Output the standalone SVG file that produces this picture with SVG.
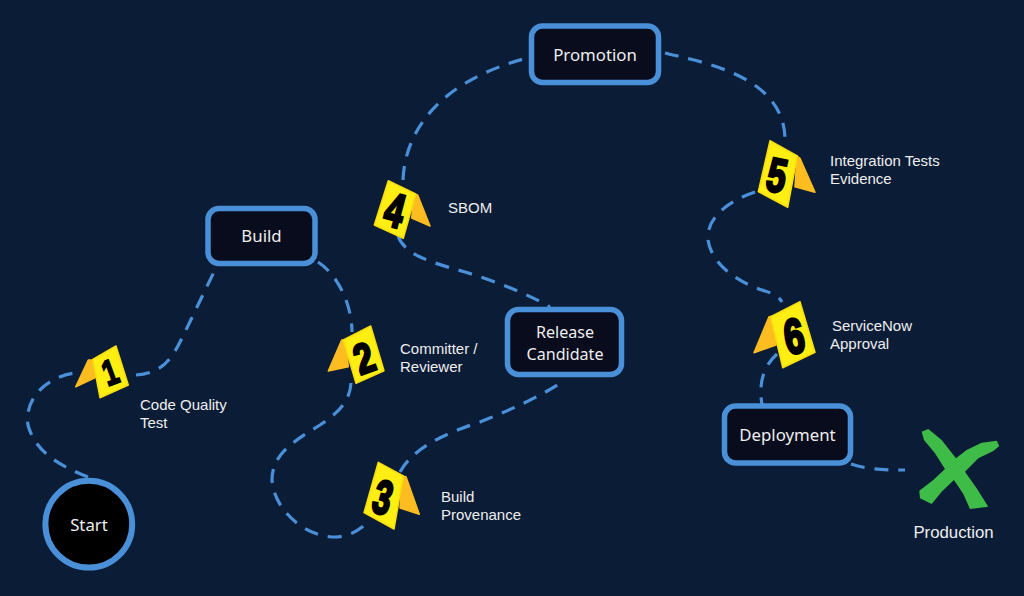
<svg xmlns="http://www.w3.org/2000/svg" width="1024" height="596" viewBox="0 0 1024 596">
<style>
.c{fill:none;stroke:#4a90d9;stroke-width:3.2;stroke-dasharray:14 10}
.n{fill:#080c1c;stroke:#4a90d9;stroke-width:5.5}
.nt{font-family:"Noto Sans","Open Sans",sans-serif;font-size:16.800px;fill:#eeeeee;text-anchor:middle}
.l{font-family:"Liberation Sans",Arial,sans-serif;font-size:15px;fill:#eeeeee}
.f{fill:#ffee12;stroke:#f8dc10;stroke-width:1.500;stroke-linejoin:round}
.s{fill:#fdbc20;stroke:#fdbc20;stroke-width:1.500;stroke-linejoin:round}
.d{font-family:"Liberation Sans",Arial,sans-serif;font-weight:bold;font-size:34px;fill:#000;stroke:#000;stroke-width:2;text-anchor:middle}
</style>
<rect width="1024" height="596" fill="#0b1c36"/>
<g id="connectors">
<path class="c" d="M88 477C60 466 35 452 28 425C24 400 45 377 75 373"/>
<path class="c" d="M136 375C160 373 170 362 180 342C192 318 205 290 215 270"/>
<path class="c" d="M318 262C338 275 352 305 352 332"/>
<path class="c" d="M351 383C350 400 340 412 320 425C292 442 272 455 272 480C274 510 305 537 335 537C348 537 358 531 366 524"/>
<path class="c" d="M400 472C412 450 440 435 480 422C510 410 540 397 565 380"/>
<path class="c" d="M398 236C405 255 430 262 465 272C495 281 530 295 550 307"/>
<path class="c" d="M403 180C405 130 440 80 531 57"/>
<path class="c" d="M665 53C700 62 785 75 785 140"/>
<path class="c" d="M755 192C725 202 706 220 708 240C712 268 745 285 765 291C775 294 780 298 782 302"/>
<path class="c" d="M777 354C765 365 758 380 762 405"/>
<path class="c" d="M851 464C870 470 885 470 905 470"/>
</g>
<g id="start"><circle cx="88.800" cy="524.200" r="43.400" fill="#000" stroke="#4a90d9" stroke-width="6"/><text class="nt" x="89" y="531">Start</text></g>
<g id="build"><rect class="n" x="208" y="208.500" width="107" height="55" rx="11"/><text class="nt" x="261.500" y="242">Build</text></g>
<g id="release"><rect class="n" x="507.500" y="309.500" width="114" height="65" rx="11"/><text class="nt" style="font-size:16.100px"><tspan x="565" y="337.500">Release</tspan><tspan x="565" y="359.500">Candidate</tspan></text></g>
<g id="promotion"><rect class="n" x="531.500" y="26" width="127" height="56.500" rx="11"/><text class="nt" x="595" y="61">Promotion</text></g>
<g id="deployment"><rect class="n" x="724.500" y="406" width="126" height="57" rx="11"/><text class="nt" x="787.500" y="441">Deployment</text></g>
<g id="marker1"><polygon class="s" points="88.300,360 75.700,386.700 95,377.700 97,360"/><polygon class="f" points="116,346 92.700,359.300 100,397.700 128.300,385"/><text class="d" transform="translate(110 372) rotate(-20) scale(.75 1.05)" y="12">1</text></g>
<g id="marker2"><polygon class="s" points="341.700,340 328.300,371 348.300,366.700 346,340"/><polygon class="f" points="370.700,326 343.300,340 356,383.300 384,370.700"/><text class="d" transform="translate(364 358) rotate(-20) scale(1 1.25)" y="12">2</text></g>
<g id="marker3"><polygon class="s" points="406,476.700 419.300,514.300 400,508 402,476"/><polygon class="f" points="378.300,462.300 403.300,476 394,529 364,512.700"/><text class="d" transform="translate(383 497) rotate(15) scale(.95 1.4)" y="12">3</text></g>
<g id="marker4"><polygon class="s" points="417.700,195 430,226 411.700,218 414,194"/><polygon class="f" points="388.300,180.700 415.700,194 403.300,238.300 374.300,225"/><text class="d" transform="translate(395 210) rotate(15) scale(1 1.4)" y="12">4</text></g>
<g id="marker5"><polygon class="s" points="800,158.300 815,192.300 795,186.700 797,156"/><polygon class="f" points="770,140.700 797.300,156 787.700,207.300 758.300,191.700"/><text class="d" transform="translate(777 175) rotate(12) scale(1 1.4)" y="12">5</text></g>
<g id="marker6"><polygon class="s" points="769,316.700 754,352.700 776,345 774,316"/><polygon class="f" points="800,301.700 770.700,316.700 782.700,367.700 815,352.300"/><text class="d" transform="translate(794 336) rotate(-10) scale(1.05 1.45)" y="12">6</text></g>
<g id="production"><polygon transform="translate(700 290) scale(.3333)" fill="#3fbb48" points="665,425 685,417 725,450 768,505 800,480 845,458 890,452 898,468 880,483 835,505 795,545 830,595 865,650 810,657 790,612 762,570 725,605 695,642 660,625 658,602 700,570 735,537 705,490 672,450"/><text x="953.500" y="538" font-family="Liberation Sans,Arial,sans-serif" font-size="16.800" fill="#eeeeee" text-anchor="middle">Production</text></g>
<g id="labels">
<text class="l" x="140" y="410">Code Quality</text><text class="l" x="140" y="428">Test</text>
<text class="l" x="400" y="354">Committer /</text><text class="l" x="400" y="372">Reviewer</text>
<text class="l" x="441" y="502">Build</text><text class="l" x="441" y="520">Provenance</text>
<text class="l" x="448" y="213">SBOM</text>
<text class="l" x="830" y="166">Integration Tests</text><text class="l" x="830" y="184">Evidence</text>
<text class="l" x="832" y="331">ServiceNow</text><text class="l" x="830" y="349">Approval</text>
</g>
</svg>
